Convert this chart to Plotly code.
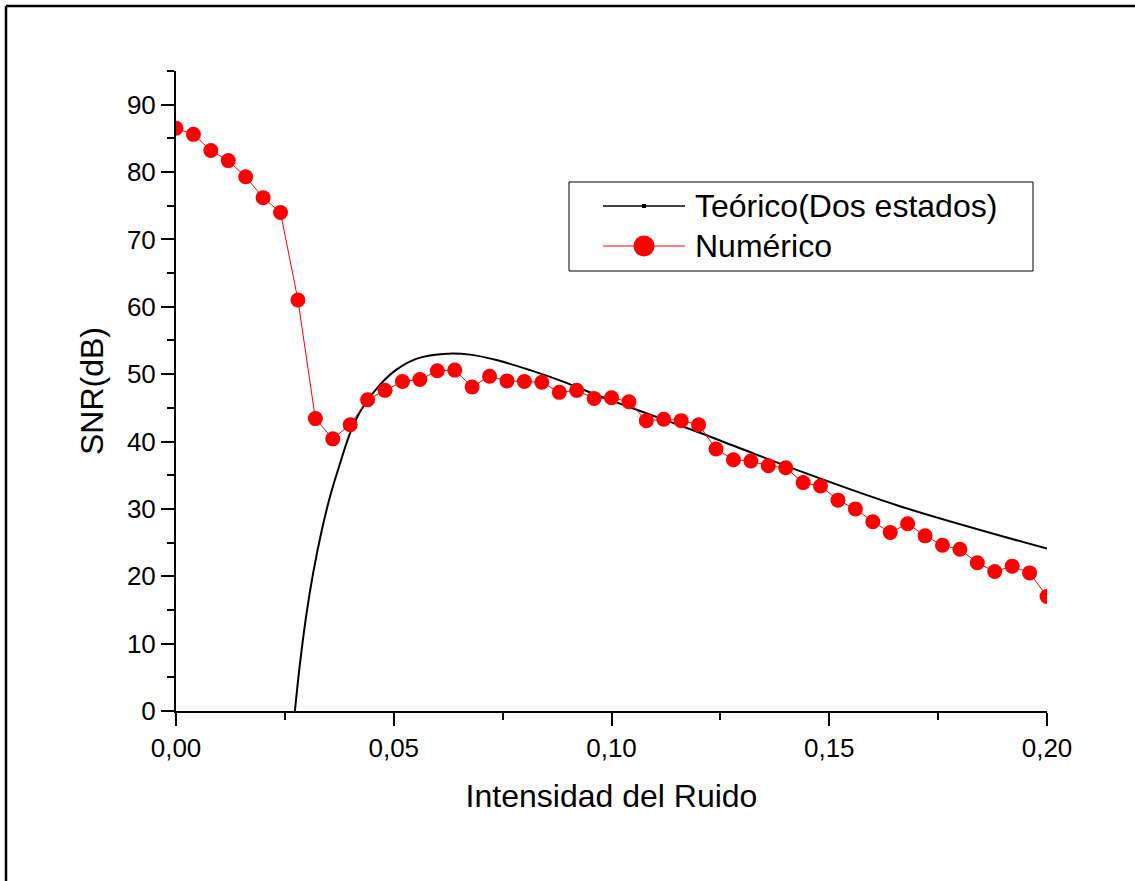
import plotly.graph_objects as go

# ---------------- data ----------------
num_x = [round(0.004 * i, 3) for i in range(51)]
num_y = [86.5, 85.6, 83.2, 81.7, 79.3, 76.2, 74.0, 61.0, 43.4, 40.4,
         42.5, 46.2, 47.6, 48.9, 49.2, 50.5, 50.6, 48.1, 49.7, 49.0,
         48.9, 48.8, 47.3, 47.6, 46.4, 46.5, 45.9, 43.1, 43.3, 43.1,
         42.5, 38.9, 37.3, 37.1, 36.4, 36.1, 33.9, 33.4, 31.3, 30.0,
         28.1, 26.5, 27.8, 26.0, 24.6, 24.0, 22.0, 20.7, 21.5, 20.5,
         17.0]

teo_x = [0.0273, 0.0285, 0.0300, 0.0315, 0.0335, 0.0354, 0.0377, 0.0400,
         0.0426, 0.0468, 0.0507, 0.0553, 0.0614, 0.0675, 0.0736, 0.0813,
         0.0889, 0.0966, 0.1050, 0.1203, 0.1295, 0.1433, 0.1662, 0.2000]
teo_y = [0.0, 7.2, 14.6, 20.5, 26.9, 31.9, 36.8, 41.3,
         44.8, 48.4, 50.7, 52.3, 53.0, 52.9, 52.1, 50.6,
         48.9, 46.9, 44.9, 41.3, 39.0, 35.6, 30.4, 24.1]

x_ticks = [0.0, 0.05, 0.10, 0.15, 0.20]
y_ticks = [0, 10, 20, 30, 40, 50, 60, 70, 80, 90]

name_teo = "Teórico(Dos estados)"
name_num = "Numérico"
x_title = "Intensidad del Ruido"
y_title = "SNR(dB)"

# ---------------- layout geometry ----------------
W, H = 1135, 881
L, R, T, B = 176, 1047, 71, 711   # plot area in pixels
PW, PH = R - L, B - T
FONT = "Liberation Sans, Arial, sans-serif"


def fx(px):
    return (px - L) / PW


def fy(py):
    return (B - py) / PH


fig = go.Figure()

fig.add_trace(go.Scatter(
    x=teo_x, y=teo_y, mode="lines", name=name_teo,
    line=dict(color="black", width=2, shape="spline", smoothing=1.0),
    showlegend=False,
))
fig.add_trace(go.Scatter(
    x=num_x, y=num_y, mode="lines+markers", name=name_num,
    line=dict(color="#ff0000", width=1),
    marker=dict(color="#ff0000", size=15, line=dict(width=0)),
    showlegend=False,
))

axis_common = dict(
    showline=True, linecolor="black", linewidth=2,
    ticks="outside", ticklen=13, tickwidth=2, tickcolor="black",
    showgrid=False, zeroline=False,
    tickfont=dict(family=FONT, size=26, color="black"),
    title_font=dict(family=FONT, size=32, color="black"),
)

fig.update_xaxes(
    range=[0, 0.2], tickvals=x_ticks, tickformat=".2f",
    minor=dict(dtick=0.025, ticks="outside", ticklen=7, tickwidth=2, tickcolor="black"),
    title_text=x_title, title_standoff=22,
    **axis_common,
)
fig.update_yaxes(
    range=[0, 95], tickvals=y_ticks,
    minor=dict(dtick=5, ticks="outside", ticklen=7, tickwidth=2, tickcolor="black"),
    title_text=y_title, title_standoff=14,
    **axis_common,
)

shapes = []
# outer frame (top and left edges visible)
shapes.append(dict(type="line", xref="paper", yref="paper",
                   x0=fx(6), y0=fy(6), x1=fx(1140), y1=fy(6),
                   line=dict(color="black", width=2.5)))
shapes.append(dict(type="line", xref="paper", yref="paper",
                   x0=fx(6), y0=fy(6), x1=fx(6), y1=fy(890),
                   line=dict(color="black", width=2.5)))
# legend box
shapes.append(dict(type="rect", xref="paper", yref="paper",
                   x0=fx(569), y0=fy(182), x1=fx(1033), y1=fy(271),
                   line=dict(color="black", width=1), fillcolor="white", layer="above"))
# legend: theoretical line
shapes.append(dict(type="line", xref="paper", yref="paper",
                   x0=fx(603), y0=fy(206), x1=fx(685), y1=fy(206),
                   line=dict(color="black", width=1.5), layer="above"))
shapes.append(dict(type="rect", xref="paper", yref="paper",
                   xsizemode="pixel", ysizemode="pixel",
                   xanchor=fx(644), yanchor=fy(206),
                   x0=-2, x1=2, y0=-2, y1=2,
                   line=dict(color="black", width=0), fillcolor="black", layer="above"))
# legend: numeric line + marker
shapes.append(dict(type="line", xref="paper", yref="paper",
                   x0=fx(603), y0=fy(246), x1=fx(685), y1=fy(246),
                   line=dict(color="#ff0000", width=1), layer="above"))
shapes.append(dict(type="circle", xref="paper", yref="paper",
                   xsizemode="pixel", ysizemode="pixel",
                   xanchor=fx(644), yanchor=fy(246),
                   x0=-10.5, x1=10.5, y0=-10.5, y1=10.5,
                   line=dict(color="#ff0000", width=0), fillcolor="#ff0000", layer="above"))

annotations = [
    dict(text=name_teo, xref="paper", yref="paper", x=fx(693), y=fy(206),
         xanchor="left", yanchor="middle", showarrow=False,
         font=dict(family=FONT, size=32, color="black")),
    dict(text=name_num, xref="paper", yref="paper", x=fx(693), y=fy(246),
         xanchor="left", yanchor="middle", showarrow=False,
         font=dict(family=FONT, size=32, color="black")),
]

fig.update_layout(
    width=W, height=H,
    margin=dict(l=L, r=W - R, t=T, b=H - B, pad=0),
    paper_bgcolor="white", plot_bgcolor="white",
    separators=",.",
    showlegend=False,
    shapes=shapes, annotations=annotations,
    font=dict(family=FONT, color="black"),
)

fig.write_html(
    "out.html",
    config={"displayModeBar": False},
    post_script="document.body.style.margin='0';document.body.style.overflow='hidden';",
)
